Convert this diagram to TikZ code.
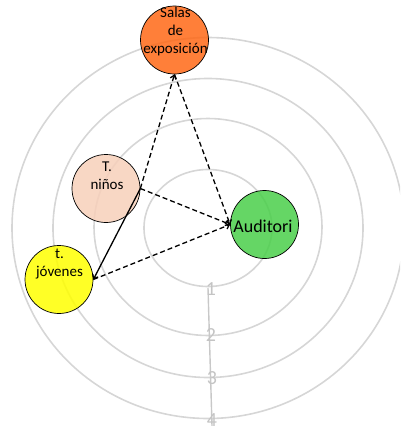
\documentclass[tikz,border=0pt]{standalone}
\usepackage{fontspec}
\setmainfont{Carlito}
\usetikzlibrary{arrows.meta}

\definecolor{ringgray}{RGB}{214,214,214}
\definecolor{axisgray}{RGB}{200,200,200}
\definecolor{numgray}{RGB}{196,196,196}
\definecolor{salasfill}{RGB}{255,104,22}
\definecolor{ninosfill}{RGB}{247,208,186}
\definecolor{jovfill}{RGB}{255,255,0}
\definecolor{audifill}{RGB}{74,207,74}

\tikzset{
  ring/.style={draw=ringgray, line width=1.6pt},
  ball/.style={circle, draw=black, line width=0.7pt, minimum size=68pt,
               inner sep=0pt, fill opacity=0.85},
  lbl/.style={align=center, inner sep=0pt, font=\fontsize{15}{18.3}\selectfont},
  num/.style={text=numgray, inner sep=0pt, font=\fontsize{20}{20}\selectfont},
  flow/.style={line width=1.3pt, -{Straight Barb[length=3.5pt,width=6pt]}},
  dflow/.style={flow, dash pattern=on 5pt off 3pt}
}

\begin{document}
\begin{tikzpicture}[x=1pt,y=-1pt]
\useasboundingbox (0,0) rectangle (400,426);
\clip (0,0) rectangle (400,426);

% concentric rings of the scale
\draw[ring] (208,228) ellipse [x radius=64,  y radius=58.5];
\draw[ring] (208,227) ellipse [x radius=114, y radius=108.5];
\draw[ring] (208,228) ellipse [x radius=155, y radius=149.5];
\draw[ring] (208,228) ellipse [x radius=196, y radius=190.5];

% scale axis and its values
\draw[axisgray, line width=1.4pt] (208,288) -- (212,426);
\node[num] (n1) at (211,289) {1};
\node[num] (n2) at (211,335) {2};
\node[num] (n3) at (212,378) {3};
\node[num] (n4) at (212,420) {4};

% spaces
\node[ball, fill=salasfill] (salas) at (174.5,40) {};
\node[ball, fill=ninosfill] (ninos) at (106,188.5) {};
\node[ball, fill=jovfill]   (jov)   at (59,279.5) {};
\node[ball, fill=audifill]  (audi)  at (264.5,224.5) {};

\node[lbl] (salast) at (175.5,31.5) {Salas\\de\\exposición};
\node[lbl] (ninost) at (107,176) {T.\\niños};
\node[lbl] (jovt)   at (59.5,264) {t.\\jóvenes};
\node[lbl, font=\fontsize{18}{20}\selectfont] (audit) at (263,226) {Auditori};

% relations between spaces
\draw[dflow] (ninos.east) -- (salas.south);
\draw[dflow] (salas.south) -- (audi.west);
\draw[dflow] (ninos.east) -- (audi.west);
\draw[dflow] (jov.east) -- (audi.west);
\draw[flow]  (ninos.east) -- (jov.east);
\end{tikzpicture}
\end{document}
